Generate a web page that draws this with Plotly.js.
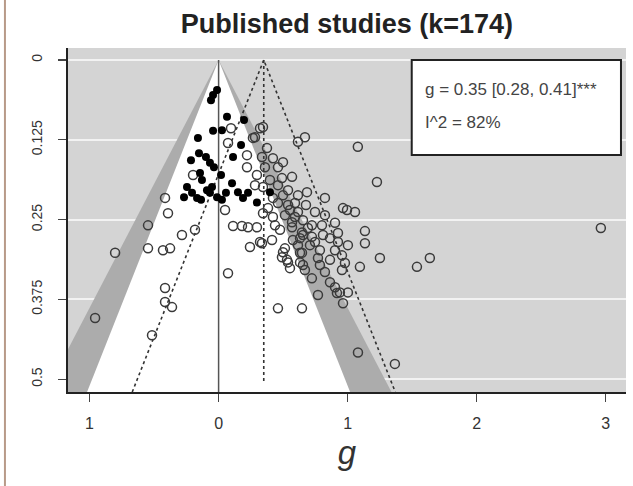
<!DOCTYPE html>
<html>
<head>
<meta charset="utf-8">
<script src="https://cdn.plot.ly/plotly-3.0.1.min.js"></script>
<style>html,body{margin:0;padding:0;background:#fff;}#chart{width:633px;height:486px;}</style>
</head>
<body>
<div id="chart"></div>
<script>
// ---- data ----
const titleText = "Published studies (k=174)";
const estimate = 0.35;          // pooled g
const ciText = "g = 0.35 [0.28, 0.41]***";
const i2Text = "I^2 = 82%";
const contourZ = [1.96, 2.576]; // 95% and 99% contours
const seMax = 0.52;

const xTickVals = [-1, 0, 1, 2, 3];
const xTickText = ["1", "0", "1", "2", "3"];
const yTickVals = [0, 0.125, 0.25, 0.375, 0.5];
const yTickText = ["0", "0.125", "0.25", "0.375", "0.5"];

// filled points
const filledG = [-0.012,-0.043,-0.059,0.065,0.197,-0.043,0.026,-0.160,0.174,-0.152,-0.098,-0.214,-0.067,-0.036,0.112,-0.144,-0.129,0.019,0.104,-0.245,-0.206,-0.167,-0.051,-0.067,-0.012,0.150,0.189,0.228,0.297,0.057,-0.268,-0.136,0.398,-0.090,0.026];
const filledSE = [0.047,0.055,0.063,0.089,0.094,0.111,0.110,0.122,0.133,0.146,0.152,0.157,0.161,0.168,0.152,0.177,0.188,0.180,0.193,0.199,0.208,0.216,0.199,0.208,0.215,0.207,0.216,0.208,0.223,0.208,0.215,0.219,0.207,0.204,0.219];

// open points
const openG = [
 -0.957,-0.802,-0.547,-0.547,-0.431,-0.376,-0.284,-0.415,-0.415,-0.361,-0.516,-0.415,-0.392,-0.198,0.050,0.073,-0.183,0.096,0.073,0.321,0.282,
 0.112,0.181,0.228,0.297,0.243,0.336,0.460,0.646,0.499,0.530,0.631,
 0.266,0.344,0.615,0.669,1.079,0.375,0.220,0.220,0.336,0.421,0.359,0.460,0.499,0.569,0.491,0.344,0.460,0.538,0.615,0.685,0.824,0.964,0.460,0.538,0.421,
 0.344,0.421,0.514,0.592,0.654,0.723,0.801,0.902,0.437,0.569,0.646,0.321,0.514,0.615,0.747,0.925,0.785,0.654,0.995,1.057,0.925,1.134,0.631,0.723,0.809,1.002,
 0.491,0.538,0.646,0.631,0.956,0.979,0.654,0.785,0.824,1.095,0.956,0.669,0.770,0.917,0.940,1.002,0.964,1.080,1.366,1.227,1.250,1.537,1.637,2.962,1.134,
 0.553,0.615,0.677,0.569,0.692,0.499,0.592,0.747,0.708,0.576,0.770,0.863,0.902,0.863,0.824,0.398,0.297,0.282,0.383,0.476,0.414,0.553,0.723,0.863,0.902];
const openSE = [
 0.404,0.302,0.259,0.295,0.298,0.295,0.274,0.357,0.379,0.387,0.431,0.216,0.240,0.180,0.235,0.334,0.266,0.107,0.130,0.107,0.121,
 0.260,0.260,0.262,0.262,0.293,0.287,0.389,0.389,0.301,0.313,0.302,
 0.122,0.105,0.128,0.121,0.136,0.138,0.149,0.168,0.152,0.154,0.168,0.168,0.160,0.183,0.185,0.199,0.196,0.204,0.212,0.207,0.216,0.232,0.224,0.227,0.216,
 0.240,0.246,0.243,0.246,0.251,0.259,0.259,0.255,0.259,0.262,0.270,0.285,0.295,0.290,0.285,0.285,0.298,0.274,0.235,0.238,0.271,0.268,0.279,0.277,0.274,0.290,
 0.309,0.317,0.302,0.317,0.306,0.318,0.321,0.321,0.332,0.324,0.329,0.329,0.368,0.365,0.364,0.364,0.381,0.458,0.476,0.191,0.310,0.324,0.310,0.263,0.287,
 0.235,0.238,0.227,0.254,0.263,0.212,0.224,0.238,0.290,0.282,0.310,0.313,0.298,0.279,0.243,0.188,0.180,0.196,0.232,0.266,0.282,0.326,0.342,0.348,0.356];

// ---- traces ----
const zOuter = contourZ[1], zInner = contourZ[0];
const traces = [
  { x: [-zOuter*seMax, 0, zOuter*seMax], y: [seMax, 0, seMax], type: 'scatter', mode: 'lines',
    fill: 'toself', fillcolor: '#acacac', line: { width: 0 }, hoverinfo: 'skip', showlegend: false },
  { x: [-zInner*seMax, 0, zInner*seMax], y: [seMax, 0, seMax], type: 'scatter', mode: 'lines',
    fill: 'toself', fillcolor: '#ffffff', line: { width: 0 }, hoverinfo: 'skip', showlegend: false },
  { x: [0, 0], y: [0, seMax], type: 'scatter', mode: 'lines', line: { color: '#555', width: 1.5 }, showlegend: false },
  { x: [estimate - zInner*seMax, estimate, estimate + zInner*seMax], y: [seMax, 0, seMax], type: 'scatter', mode: 'lines',
    line: { color: '#333', width: 1.6, dash: 'dot' }, showlegend: false },
  { x: [estimate, estimate], y: [0, 0.505], type: 'scatter', mode: 'lines', line: { color: '#333', width: 1.6, dash: 'dot' }, showlegend: false },
  { x: openG, y: openSE, type: 'scatter', mode: 'markers',
    marker: { symbol: 'circle-open', size: 9, color: '#3a3a3a', line: { width: 1.5, color: '#3a3a3a' } }, showlegend: false },
  { x: filledG, y: filledSE, type: 'scatter', mode: 'markers',
    marker: { symbol: 'circle', size: 8, color: '#000' }, showlegend: false }
];

const font = "Liberation Sans, Arial, sans-serif";
const layout = {
  width: 633, height: 486,
  margin: { l: 68, r: 7, t: 48, b: 94 },
  paper_bgcolor: '#ffffff', plot_bgcolor: '#d4d4d4',
  font: { family: font, color: '#333' },
  title: { text: '<b>' + titleText + '</b>', x: 0.548, xref: 'container', xanchor: 'center', y: 0.952, yref: 'container', yanchor: 'middle',
           font: { size: 27, color: '#222', family: font } },
  xaxis: { range: [-1.167, 3.157], tickvals: xTickVals, ticktext: xTickText, showgrid: false, zeroline: false,
           showline: true, linecolor: '#222', linewidth: 2, ticks: 'outside', ticklen: 8, tickcolor: '#444', tickwidth: 1.2,
           tickfont: { size: 16, color: '#333' }, ticklabelstandoff: 8,
           title: { text: '<i>g</i>', font: { size: 33, color: '#333', family: font }, standoff: 10 } },
  yaxis: { range: [0.52, -0.0188], tickvals: yTickVals, ticktext: yTickText, showgrid: true, gridcolor: '#f2f2f2', gridwidth: 2,
           zeroline: false, showline: true, linecolor: '#222', linewidth: 2, ticks: 'outside', ticklen: 8, tickcolor: '#444', tickwidth: 1.2,
           tickangle: -90, tickfont: { size: 14, color: '#333' }, ticklabelstandoff: 10 },
  shapes: [
    { type: 'rect', xref: 'paper', yref: 'paper', x0: 0.616, x1: 0.991, y0: 0.689, y1: 0.965,
      fillcolor: '#ffffff', line: { color: '#222', width: 2 }, layer: 'above' },
    { type: 'line', xref: 'paper', yref: 'paper', x0: -0.113, x1: -0.113, y0: -0.3, y1: 1.2,
      line: { color: '#b89a88', width: 2 } }
  ],
  annotations: [
    { xref: 'paper', yref: 'paper', x: 0.636, y: 0.878, xanchor: 'left', yanchor: 'middle', showarrow: false,
      text: ciText, font: { size: 17, color: '#444', family: font } },
    { xref: 'paper', yref: 'paper', x: 0.636, y: 0.782, xanchor: 'left', yanchor: 'middle', showarrow: false,
      text: i2Text, font: { size: 17, color: '#444', family: font } }
  ]
};

Plotly.newPlot('chart', traces, layout, { displayModeBar: false, staticPlot: true });
</script>
</body>
</html>
